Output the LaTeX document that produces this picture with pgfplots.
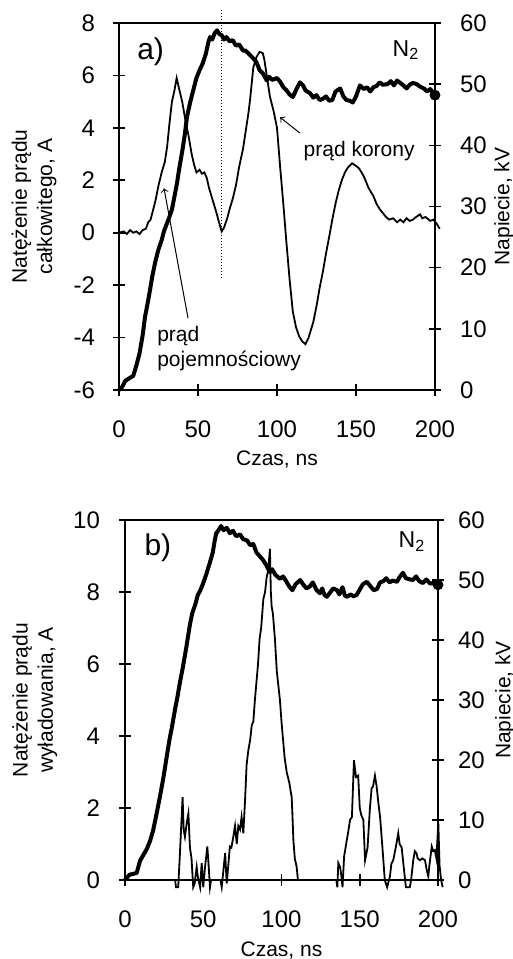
\documentclass[border=0pt]{standalone}
\usepackage{pgfplots}
\pgfplotsset{compat=1.18}
\usepackage{fontspec}
\setmainfont{Liberation Sans}
\begin{document}
\begin{tikzpicture}[font=\fontsize{10.5}{12.6}\selectfont]
\pgfplotsset{
  osc/.style={
    scale only axis, clip=false,
    xmin=0, xmax=200, xtick={0,50,...,200},
    tick align=center, major tick length=6pt,
    axis line style={line width=0.8pt},
    every tick/.style={black, line width=0.8pt},
    tick label style={font=\fontsize{12}{14}\selectfont},
    label style={font=\fontsize{10.5}{12.6}\selectfont},
    /pgf/number format/assume math mode=true,
  },
  thin/.style={black, line width=0.9pt, mark=none},
  thickv/.style={black, line width=2pt, mark=none, line join=round},
}
\path[use as bounding box] (0,0) rectangle (256.5pt,-479.5pt);

% ---------- a) ----------
\begin{axis}[osc, at={(59.5pt,-195pt)}, anchor=south west,
  width=158pt, height=183.5pt,
  ymin=-6, ymax=8, ytick={-6,-4,...,8},
  xtick pos=bottom, ytick pos=left,
  xticklabel style={yshift=-9pt},
  yticklabel style={xshift=-5.5pt},
  xlabel={Czas, ns},
  xlabel style={at={(axis description cs:0.5,0)}, anchor=center, yshift=-35pt},
  ylabel={Natężenie prądu\\całkowitego, A},
  ylabel style={at={(axis description cs:-0.269,0.5)}, anchor=center, align=center},
]
\addplot[thin] coordinates {
(0,0)(3,0.05)(5,-0.05)(7,0.1)(9,0)(11,0.05)(13,-0.05)(15,0.1)(17,0.15)(18.5,0.4)
(20,0.5)(21.5,0.85)(23,1.2)(25,1.8)(27,2.3)(29,2.7)(30.5,3.3)(32,4.2)(33.5,5.0)
(35,5.4)(36.5,5.9)(38,5.5)(40,5.0)(42,4.3)(44,3.7)(46,3.0)(47.5,2.6)(49,2.3)
(51,2.4)(52.5,2.25)(54,2.3)(55.5,2.1)(57,1.7)(59.5,1.2)(61.5,0.8)(63.5,0.35)
(65,0.05)(66.5,0.2)(68.5,0.55)(70,0.9)(72,1.3)(74,1.8)(76,2.5)(78.5,3.2)(80,3.8)
(82,4.6)(83,5.1)(85,6.3)(87,6.7)(89,6.9)(91,6.85)(92,6.6)(93.5,6.0)(95.5,5.2)
(98,4.6)(100,4.0)(102,2.5)(104,1.1)(106,-0.4)(108,-1.8)(110,-3.0)(112,-3.6)
(114,-3.95)(116,-4.15)(118,-4.25)(120,-4.0)(123,-3.4)(125,-2.8)(127,-2.1)
(129,-1.5)(131,-0.8)(133.5,0)(135,0.5)(137,1.1)(139,1.6)(141,2.0)(143,2.3)
(145,2.5)(147.5,2.65)(150,2.55)(152,2.45)(154.5,2.2)(156,2.0)(158,1.7)(161,1.4)
(163,1.1)(165,0.9)(167,0.75)(169,0.6)(171,0.5)(173.5,0.55)(176,0.4)(178,0.5)
(180,0.4)(182,0.55)(184,0.45)(186,0.5)(188,0.6)(190.5,0.7)(192,0.55)(194,0.6)
(197,0.45)(199,0.5)(201,0.35)(203,0.15)
};
\addplot[black, line width=0.5pt, densely dotted] coordinates {(65,8.5)(65,-1.75)};
\draw[->, line width=0.5pt] (axis cs:114.5,3.8) -- (axis cs:102,4.4);
\draw[->, line width=0.5pt] (axis cs:43.7,-3.26) -- (axis cs:28.5,1.69);
\node at (axis cs:152,3.1) {prąd korony};
\node[anchor=west, align=left, inner sep=0pt] at (axis cs:24,-4.42) {prąd\\pojemnościowy};
\node[font=\fontsize{15}{18}\selectfont] at (axis description cs:0.10,0.921) {a)};
\node[font=\fontsize{11.5}{14}\selectfont] at (axis description cs:0.908,0.926) {N\textsubscript{2}};
\end{axis}

\begin{axis}[osc, at={(59.5pt,-195pt)}, anchor=south west,
  width=158pt, height=183.5pt,
  axis x line=none, axis y line*=right,
  ymin=0, ymax=60, ytick={0,10,...,60}, ytick pos=right,
  yticklabel style={xshift=6pt},
  ylabel={Napiecie, kV},
  ylabel style={at={(axis description cs:1.218,0.5)}, anchor=center},
]
\addplot[thickv] coordinates {
(0,0)(2,0.5)(4,1.5)(7,2)(9,2.3)(11,4)(13,6)(15,9)(16.5,12)(18,14)(19.6,16.3)
(21,18.5)(23,21)(25,23)(27,24.5)(28.5,26)(30,27)(31.5,28)(33.5,29.5)(35,31.5)
(36.7,33.8)(38,36)(40,39)(41.5,41.5)(43,44.6)(45,47)(47,49)(49,51)(51,52.3)
(53,53.4)(55,55)(56.5,56.8)(57.6,57.7)(59,57.3)(60.5,58.3)(62,58.8)(63.5,58.2)
(65,58)(66.5,57.3)(68,57.7)(70,57)(72,57.2)(74,56.3)(76,56.5)(78.5,55.5)(80,55.5)
(82,55)(85,54.2)(87,53.6)(89,52.3)(91,51.8)(93.5,50.6)(95,51.2)(97,50.7)(100,51)
(102,50.4)(104,49.5)(106,49)(108,48.3)(110,47.9)(112,49)(114.5,50.3)(116.5,49.8)
(118,49)(121,48.5)(123,47.8)(125,48.2)(127,47.4)(129,47.6)(131,48)(133,47.3)
(135,47.4)(137,48.8)(140,49.3)(142,48)(144,47.4)(146,47.3)(148,47.0)(150,48)
(152.5,49.8)(155,49.2)(157,49.5)(159,48.8)(161,49.5)(163,49.7)(165,50.3)(167,49.9)
(170,50)(172,50.5)(174,49.8)(176,50.6)(178,50.2)(180,49.8)(182,49.3)(184,49.9)
(186,50.2)(188.5,50)(190.5,49.6)(193,49.3)(195,48.8)(197,49.2)(200,48.2)
};
\addplot[black, only marks, mark=*, mark size=2.5pt] coordinates {(200,48.2)};
\end{axis}

% ---------- b) ----------
\begin{axis}[osc, at={(62.5pt,-440pt)}, anchor=south west,
  width=156.5pt, height=180pt,
  ymin=0, ymax=10, ytick={0,2,...,10},
  xtick pos=bottom, ytick pos=left,
  xticklabel style={yshift=-9pt},
  yticklabel style={xshift=-6pt},
  xlabel={Czas, ns},
  xlabel style={at={(axis description cs:0.5,0)}, anchor=center, yshift=-35pt},
  ylabel={Natężenie prądu\\wyładowania, A},
  ylabel style={at={(axis description cs:-0.288,0.5)}, anchor=center, align=center},
]
\addplot[thin] coordinates {
(0,0)(32,0)(32.6,-0.2)(34,-0.2)(35,0.65)(36.8,2.3)(37.5,1.4)(38.3,1.2)(39.5,1.6)
(40.5,1.85)(41.5,0.9)(42.5,0.6)(43.6,-0.2)(44.5,-0.1)(45.8,0.36)(46.5,0.1)(48,-0.2)
(49,0.47)(50,-0.2)(51,0.3)(52.6,0.93)(53.3,0.5)(54.3,-0.2)(55,0)(61,0)(61.8,-0.2)
(64,0.75)(65,-0.1)(66,0.4)(67,0.93)(68,0.9)(69.2,1.2)(70.3,1.5)(71.4,1.0)(72.4,1.5)
(73.5,1.4)(74.5,1.75)(75.6,1.3)(76.7,2.2)(77.7,3.2)(78.8,3.6)(80,3.9)(81,4.3)
(82,4.4)(83,5.0)(84,5.5)(85,6.0)(86,6.7)(87,7.0)(88.4,7.8)(89.5,8.0)(90.5,8.4)
(91.5,8.6)(92.6,9.2)(93.2,8.0)(93.7,7.6)(94.5,7.4)(95.8,6.7)(97,5.8)(99,5.0)
(100,4.4)(101,3.9)(102,3.4)(103.3,3.0)(105,2.7)(106.5,2.3)(107,1.8)(107.6,1.1)
(108.5,0.6)(109.7,0.36)(110.5,0)(135,0)(135.7,-0.2)(136.3,0.47)(137.5,0.35)
(138.3,0.1)(139,-0.2)(140,0.65)(141.7,1.1)(142.5,1.3)(143.8,1.67)(145,1.75)
(146.3,3.33)(147.6,2.86)(149,2.9)(150,2.0)(151,1.8)(152.3,1.67)(153.4,0.55)
(155,0.9)(156.5,2.0)(157.6,2.55)(158.5,2.6)(159.7,2.9)(160.8,2.6)(162,2.1)
(163,1.75)(164.5,0.9)(166,0)(167.5,-0.2)(169.3,0.1)(170.2,0.45)(171.4,0.55)
(173,0.9)(174.6,1.3)(175.5,1.0)(176.8,0.9)(178,0.4)(179,0)(179.5,-0.2)(182,-0.2)
(182.8,0)(184.2,0.55)(185.2,0.8)(186.3,0.74)(187,0.6)(188.4,0.55)(190,0.6)
(191.7,0.55)(192.7,0.3)(193.8,0.1)(194.5,0.4)(196,0.93)(197,0.8)(198,0.83)
(199,0.6)(200.2,1.6)(201,0.4)(202,0)(203,-0.2)
};
\node[font=\fontsize{15}{18}\selectfont] at (axis description cs:0.105,0.922) {b)};
\node[font=\fontsize{11.5}{14}\selectfont] at (axis description cs:0.917,0.94) {N\textsubscript{2}};
\end{axis}

\begin{axis}[osc, at={(62.5pt,-440pt)}, anchor=south west,
  width=156.5pt, height=180pt,
  axis x line=none, axis y line*=right,
  ymin=0, ymax=60, ytick={0,10,...,60}, ytick pos=right,
  yticklabel style={xshift=3.5pt},
  ylabel={Napiecie, kV},
  ylabel style={at={(axis description cs:1.214,0.5)}, anchor=center},
]
\addplot[thickv] coordinates {
(0,0)(1.2,0.4)(3,0.9)(5,1.0)(7.5,1.2)(9.6,3.2)(12,4.3)(14,5.2)(16,6.5)(18,8.3)
(20,10.8)(22.4,14)(24.5,17)(26.8,20.8)(28.5,23.5)(30,25.5)(32,28.5)(33.5,30.5)
(35,32.8)(37,35.5)(39,38.5)(41.5,42.6)(43,44.5)(45,46)(46.5,47.5)(48,48.2)(50,49.5)
(52,51)(54,52.7)(56,54.5)(57.3,56.5)(58.3,57.8)(59.5,58.2)(61.4,59)(63,58.3)
(65,58.7)(67,57.8)(69,58.2)(71,57.3)(73.5,57.6)(75.5,56.8)(78,56.6)(80,55.8)(82,56)
(84,54.6)(86,54)(88,53.4)(90,52.6)(92.6,51.3)(94,51.8)(96,50.9)(99,50.2)(101,50.6)
(103,49.8)(105,48.9)(107,48.3)(109,49.3)(112,50)(114,49.2)(116,48.6)(118,48.9)
(120,49.6)(122.5,48.3)(124.6,47.8)(126,48.6)(127.5,47.5)(129,47.2)(131,47.9)
(133,48.6)(135.5,48.3)(137,47.6)(139,48.8)(140.5,47.4)(142,47.2)(144,47.6)(146,47.3)
(148,47.5)(150,48.4)(152,49.3)(154.6,49.7)(157,48.9)(159,48.3)(161,48.5)(163,49.6)
(165,49.8)(167,50.3)(169,49.6)(171,49.9)(173.8,49.7)(175.5,50.5)(177.6,51.2)
(179.5,50.3)(182,50.1)(184,50)(186,50.6)(188,49.8)(190.4,49.5)(192.5,50.1)
(195,49.4)(197,49.5)(200,49.2)
};
\addplot[black, only marks, mark=*, mark size=2.5pt] coordinates {(200,49.2)};
\end{axis}
\end{tikzpicture}
\end{document}
